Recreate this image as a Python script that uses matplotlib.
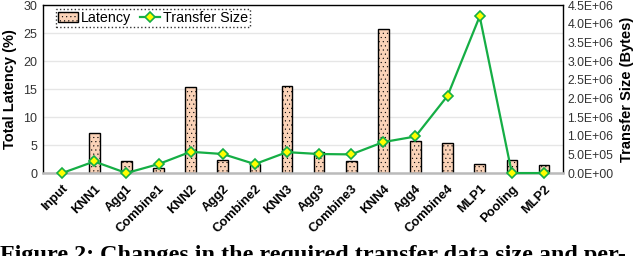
import matplotlib
matplotlib.use("Agg")
import matplotlib.pyplot as plt
import numpy as np
from matplotlib.ticker import FuncFormatter

layers = ["Input", "KNN1", "Agg1", "Combine1", "KNN2", "Agg2", "Combine2", "KNN3",
          "Agg3", "Combine3", "KNN4", "Agg4", "Combine4", "MLP1", "Pooling", "MLP2"]
latency = [0.0, 7.1, 2.2, 0.85, 15.4, 2.4, 1.55, 15.6, 3.7, 2.2, 25.7, 5.8, 5.3, 1.7, 2.4, 1.4]
transfer = [0.0, 3.1e5, 0.0, 2.4e5, 5.7e5, 5.1e5, 2.4e5, 5.6e5, 5.1e5, 5.0e5,
            8.3e5, 9.8e5, 2.07e6, 4.2e6, 0.0, 0.0]

plt.rcParams["font.family"] = ["Liberation Sans", "DejaVu Sans"]
plt.rcParams["hatch.color"] = "#EBB795"
plt.rcParams["hatch.linewidth"] = 0.3

fig = plt.figure(figsize=(6.4, 2.56), dpi=100)
ax = fig.add_axes([0.067, 0.324, 0.813, 0.656])
x = np.arange(len(layers))

ax.yaxis.grid(True, color="#E6E6E6", linewidth=1.0)
ax.set_axisbelow(True)
bars = ax.bar(x, latency, width=0.33, color="#FBD3B8", edgecolor="black",
              linewidth=1.0, hatch="....", label="Latency", zorder=2)
ax.set_ylim(0, 30)
ax.set_yticks(range(0, 31, 5))
ax.set_xlim(-0.6, len(layers) - 0.4)
ax.set_xticks(x)
ax.set_xticklabels(layers, rotation=45, ha="right", rotation_mode="anchor",
                   fontsize=9.3, fontweight="bold")
ax.tick_params(axis="x", length=0, pad=7)
ax.tick_params(axis="y", length=0, labelsize=9, colors="#333333", pad=4)
ax.set_ylabel("Total Latency (%)", fontsize=10.5, fontweight="bold")
ax.yaxis.set_label_coords(-0.05, 0.5)
for s in ["left", "top", "right"]:
    ax.spines[s].set_color("black")
    ax.spines[s].set_linewidth(1.0)
ax.spines["bottom"].set_color("#BBBBBB")
ax.spines["bottom"].set_linewidth(1.8)

ax2 = ax.twinx()
line, = ax2.plot(x, transfer, color="#15AE45", linewidth=1.6, marker="D",
                 markersize=5, markerfacecolor="#FFFF00", markeredgecolor="#15AE45",
                 markeredgewidth=1.2, label="Transfer Size", zorder=3, clip_on=False)
ax2.set_ylim(0, 4.5e6)
ax2.set_yticks(np.arange(0, 4.51e6, 5e5))
ax2.yaxis.set_major_formatter(FuncFormatter(lambda v, p: "%.1E" % v))
ax2.tick_params(axis="y", length=0, labelsize=8.8, colors="#333333", pad=3)
ax2.set_ylabel("Transfer Size (Bytes)", fontsize=10.5, fontweight="bold")
ax2.yaxis.set_label_coords(1.11, 0.5)
for s in ax2.spines.values():
    s.set_visible(False)

leg = ax.legend([bars, line], ["Latency", "Transfer Size"], loc="upper left",
                bbox_to_anchor=(0.02, 0.995), ncol=2, fontsize=10.3, frameon=True,
                fancybox=False, handlelength=1.4, handletextpad=0.2,
                columnspacing=0.6, borderpad=0.15, borderaxespad=0.2)
leg.get_frame().set_edgecolor("black")
leg.get_frame().set_linestyle(":")
leg.get_frame().set_linewidth(1.0)
leg.set_zorder(5)

fig.text(0.0, 0.0, "Figure 2: Changes in the required transfer data size and per-",
         family=["Liberation Serif", "DejaVu Serif"], fontsize=17.4, fontweight="bold",
         ha="left", va="center")

fig.savefig("out.png", dpi=100)
